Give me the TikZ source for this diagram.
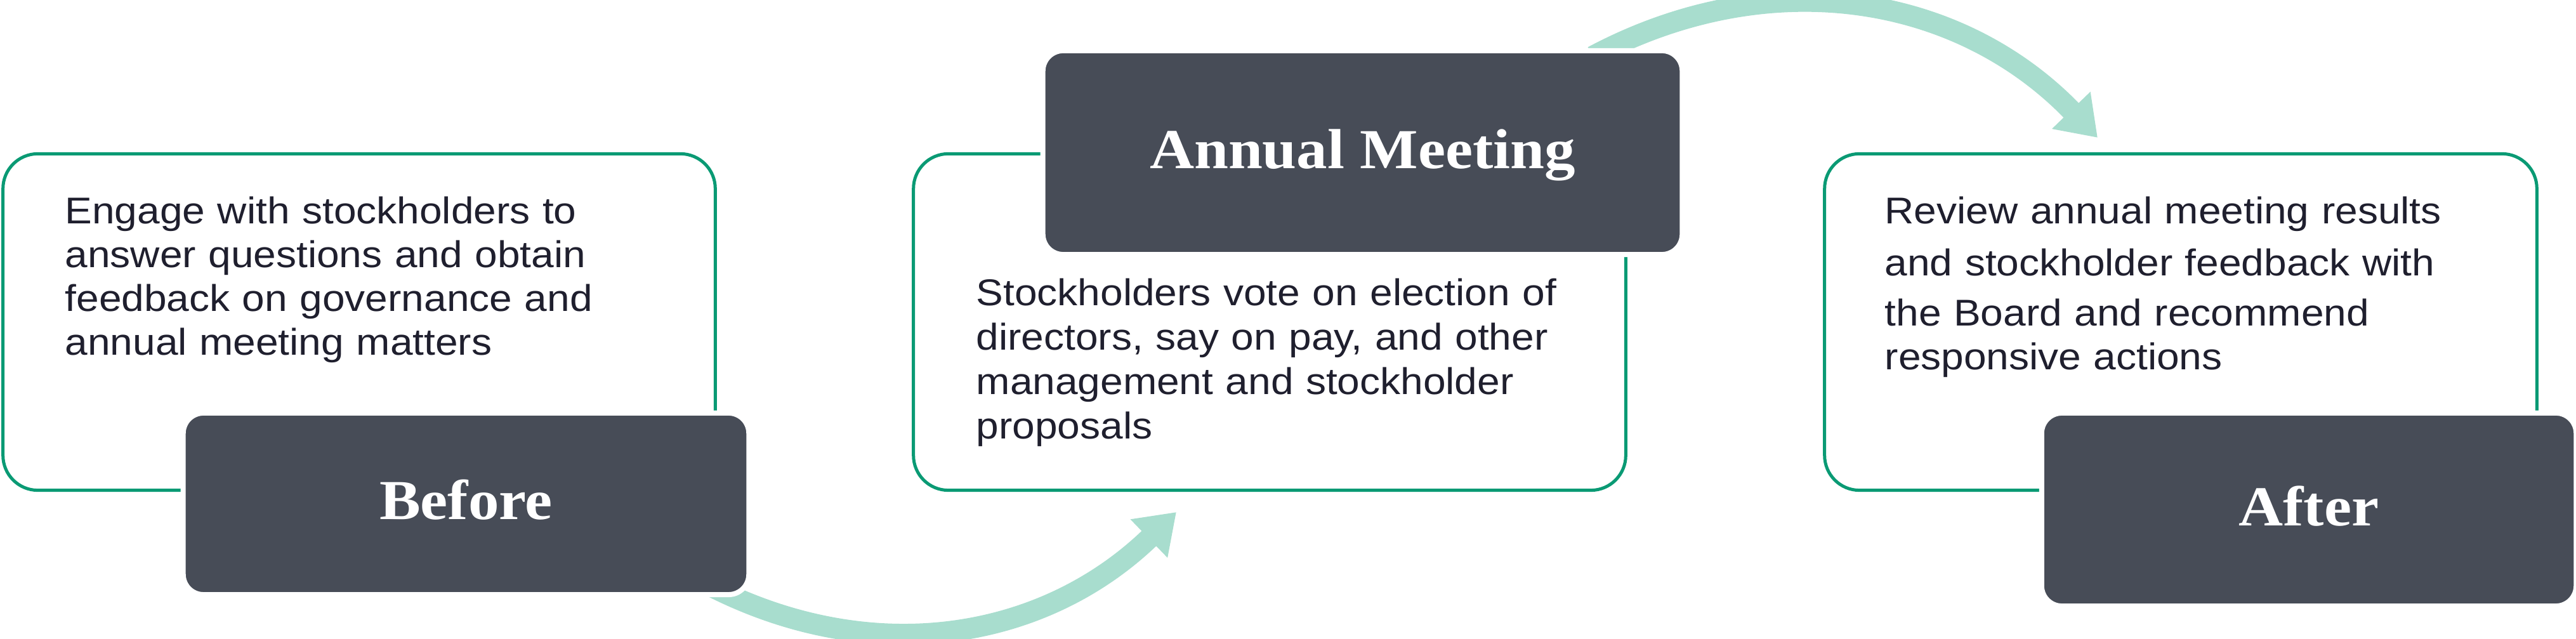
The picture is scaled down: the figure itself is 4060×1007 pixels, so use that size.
\documentclass[tikz,border=0pt]{standalone}
\usepackage{fontspec}
\setmainfont{Liberation Sans}[FakeStretch=1.09]
\newfontfamily\titlefont{Liberation Serif}[FakeStretch=1.09]
\usetikzlibrary{arrows.meta,backgrounds}

\definecolor{slate}{HTML}{474C57}
\definecolor{edgegreen}{HTML}{0A9A74}
\definecolor{mint}{HTML}{A8DDCE}
\definecolor{inkblue}{HTML}{1F1F2E}

\tikzset{
  infobox/.style={draw=edgegreen, line width=0.05cm, fill=white, rounded corners=0.55cm,
    minimum width=11.22cm, minimum height=5.3cm},
  stagebox/.style={fill=slate, draw=white, line width=0.08cm, rounded corners=0.32cm,
    text=white, font=\titlefont\bfseries\fontsize{25.3}{30}\selectfont,
    text height=0.6cm, text depth=0.1cm},
  bodytext/.style={anchor=base west, inner sep=0pt, text width=10cm, align=left,
    text=inkblue, font=\fontsize{16.7}{19.6}\selectfont},
  flow/.style={mint, line width=0.33cm, -{Triangle[width=0.8cm,length=0.6cm]}}
}

\begin{document}
\begin{tikzpicture}[x=0.01cm,y=0.01cm]
    \useasboundingbox (0,0) rectangle (4060,1007);

    % white boxes
    \node[infobox] (box1) at (566,499.5) {};
    \node[infobox] (box2) at (2001,499.5) {};
    \node[infobox] (box3) at (3437,499.5) {};

    % stage labels
    \node[stagebox, minimum width=8.91cm, minimum height=2.86cm] (before) at (734.5,213) {Before};
    \node[stagebox, minimum width=10.07cm, minimum height=3.21cm] (meeting) at (2147.5,766.5) {Annual Meeting};
    \node[stagebox, minimum width=8.42cm, minimum height=3.04cm] (after) at (3639,204) {After};

    \node[bodytext] (txt1) at (102,654) {Engage with stockholders to\\ answer questions and obtain\\ feedback on governance and\\ annual meeting matters};
    \node[bodytext, font=\fontsize{16.7}{19.9}\selectfont] (txt2) at (1538,525) {Stockholders vote on election of\\ directors, say on pay, and other\\ management and stockholder\\ proposals};
    \node[bodytext] (txt3) at (2970,654) {Review annual meeting results\\[3.7pt] and stockholder feedback with\\[2.8pt] the Board and recommend\\ responsive actions};

    % arrows
    \coordinate (tip1) at (1854,200);
    \coordinate (tip2) at (3306,790);
    \begin{scope}[on background layer]
    \draw[flow] ([shift={(-77,24)}]before.south east) to[out=-28,in=-136] (tip1);
    \draw[flow] ([shift={(-145,-13)}]meeting.north east) to[out=28,in=134] (tip2);
    \end{scope}

\end{tikzpicture}
\end{document}
